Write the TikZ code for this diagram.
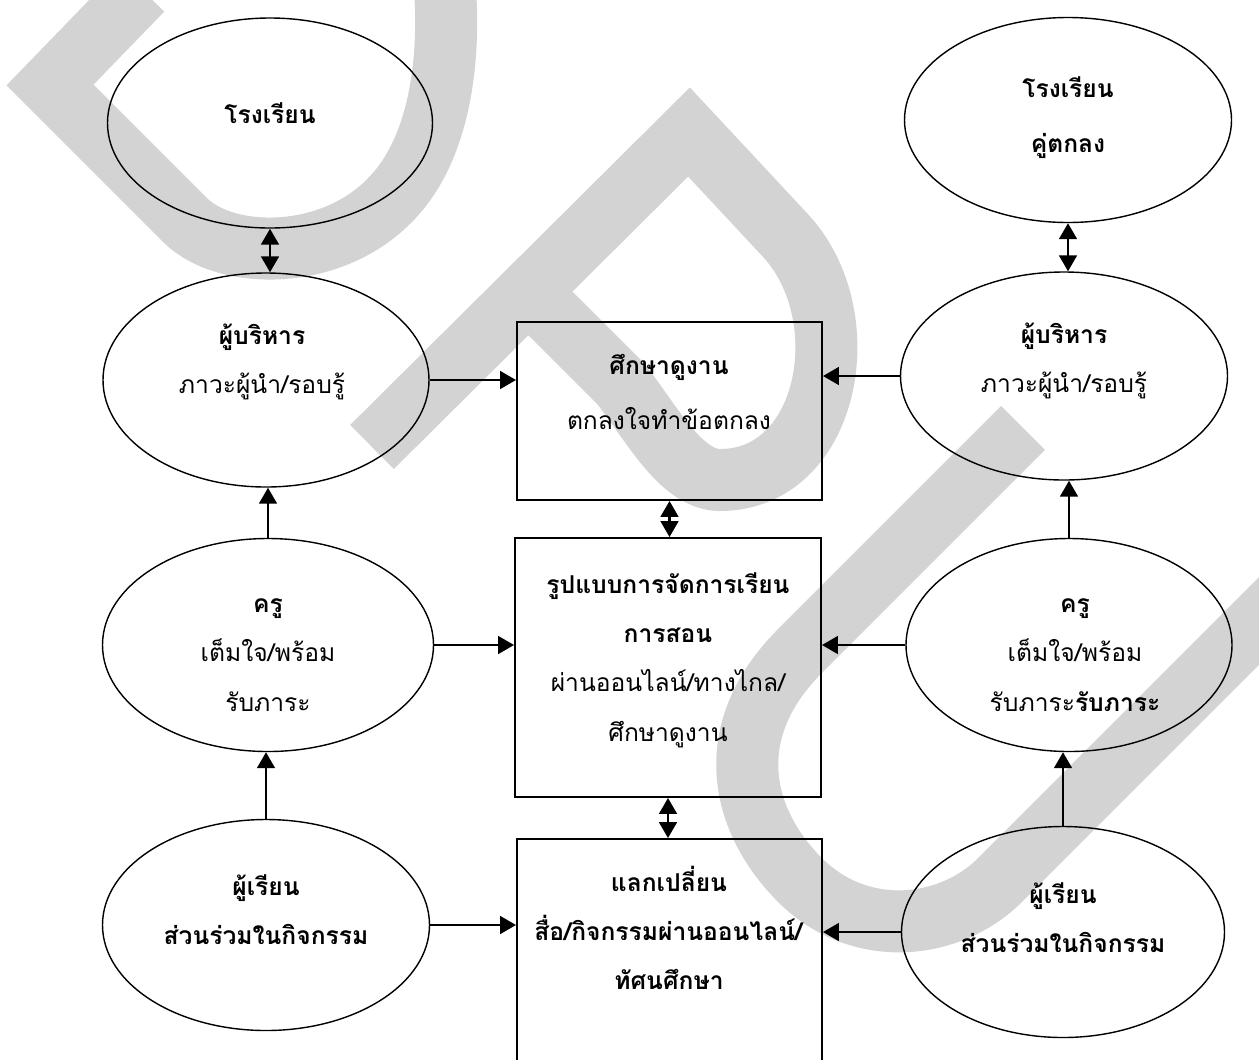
\documentclass[tikz,border=0pt]{standalone}
\usepackage{fontspec}
\setmainfont[Script=Thai]{Loma}
\usetikzlibrary{shapes.geometric, arrows.meta, positioning}
\definecolor{wmgray}{RGB}{211,211,211}
\tikzstyle{oval} = [
    ellipse,
    draw=black,
    line width=0.8pt,
    inner sep=0pt
]
\tikzstyle{block} = [
    rectangle,
    draw=black,
    line width=1.1pt,
    inner sep=0pt
]
\tikzstyle{txt} = [
    align=center,
    inner sep=0pt,
    font=\fontsize{14}{28}\selectfont
]
\tikzstyle{link} = [line width=1.4pt, -{Triangle[length=9pt,width=10pt]}]
\tikzstyle{twoway} = [line width=1.4pt, {Triangle[length=9pt,width=10pt]}-{Triangle[length=9pt,width=10pt]}]
\tikzstyle{wmband} = [draw=wmgray, line width=1.24cm, line join=miter]

\begin{document}
\begin{tikzpicture}
            \path[use as bounding box] (0,0) rectangle (25.18,-21.18);
            \clip (0,0) rectangle (25.18,-21.18);

            % watermark
            \draw[wmband] (2.84,0.2) -- (1.00,-1.70) -- (3.70,-4.40)
                .. controls (4.50,-5.20) and (6.60,-5.24) .. (7.80,-4.00)
                .. controls (8.80,-3.00) and (9.00,-1.20) .. (8.90,0.2);
            \draw[wmband] (7.44,-8.94) -- (13.78,-2.64) -- (15.70,-4.70)
                .. controls (17.20,-6.30) and (16.60,-9.60) .. (14.40,-9.60)
                .. controls (13.60,-9.60) and (13.00,-8.40) .. (12.40,-7.66) -- (10.58,-5.84);
            \draw[wmband] (20.46,-8.56) -- (16.00,-13.02)
                .. controls (14.40,-14.62) and (14.80,-16.40) .. (16.00,-17.60)
                .. controls (17.20,-18.80) and (19.00,-18.60) .. (20.00,-17.60) -- (25.80,-11.80);

            % left column
            \node[oval, minimum width=6.50cm, minimum height=4.20cm] (schoolL) at (5.40,-2.46) {};
            \node[oval, minimum width=6.52cm, minimum height=4.28cm] (adminL) at (5.32,-7.60) {};
            \node[oval, minimum width=6.62cm, minimum height=4.26cm] (teacherL) at (5.36,-12.90) {};
            \node[oval, minimum width=6.54cm, minimum height=4.22cm] (studentL) at (5.32,-18.50) {};

            % right column
            \node[oval, minimum width=6.54cm, minimum height=4.10cm] (schoolR) at (21.36,-2.40) {};
            \node[oval, minimum width=6.54cm, minimum height=4.16cm] (adminR) at (21.28,-7.52) {};
            \node[oval, minimum width=6.52cm, minimum height=4.26cm] (teacherR) at (21.38,-12.90) {};
            \node[oval, minimum width=6.46cm, minimum height=4.22cm] (studentR) at (21.26,-18.64) {};

            % middle
            \node[block, minimum width=6.10cm, minimum height=3.56cm] (visit) at (13.39,-8.22) {};
            \node[block, minimum width=6.12cm, minimum height=5.18cm] (model) at (13.36,-13.35) {};
            \node[block, minimum width=6.10cm, minimum height=4.72cm] (share) at (13.39,-19.14) {};

            % texts
            \node[txt] (schoolLtxt) at (5.40,-2.26) {\textbf{โรงเรียน}};
            \node[txt] (schoolRtxt) at (21.36,-2.35) {\textbf{โรงเรียน}\\[3pt] \textbf{คู่ตกลง}};
            \node[txt] (adminLtxt) at (5.24,-7.24) {\textbf{ผู้บริหาร}\\ ภาวะผู้นำ/รอบรู้};
            \node[txt] (adminRtxt) at (21.28,-7.22) {\textbf{ผู้บริหาร}\\ ภาวะผู้นำ/รอบรู้};
            \node[txt] (teacherLtxt) at (5.36,-13.10) {\textbf{ครู}\\ เต็มใจ/พร้อม\\ รับภาระ};
            \node[txt] (teacherRtxt) at (21.50,-13.10) {\textbf{ครู}\\ เต็มใจ/พร้อม\\ รับภาระ\textbf{รับภาระ}};
            \node[txt] (studentLtxt) at (5.32,-18.20) {\textbf{ผู้เรียน}\\ \textbf{ส่วนร่วมในกิจกรรม}};
            \node[txt] (studentRtxt) at (21.26,-18.36) {\textbf{ผู้เรียน}\\ \textbf{ส่วนร่วมในกิจกรรม}};
            \node[txt] (visittxt) at (13.38,-7.84) {\textbf{ศึกษาดูงาน}\\[3pt] ตกลงใจทำข้อตกลง};
            \node[txt] (modeltxt) at (13.36,-13.20) {\textbf{รูปแบบการจัดการเรียน}\\ \textbf{การสอน}\\ ผ่านออนไลน์/ทางไกล/\\ ศึกษาดูงาน};
            \node[txt] (sharetxt) at (13.38,-18.56) {\textbf{แลกเปลี่ยน}\\ \textbf{สื่อ/กิจกรรมผ่านออนไลน์/}\\ \textbf{ทัศนศึกษา}};

            % connectors
            \draw[twoway] (schoolL.south) -- (schoolL.south |- adminL.north);
            \draw[twoway] (schoolR.south) -- (schoolR.south |- adminR.north);
            \draw[link] (teacherL.north) -- (teacherL.north |- adminL.south);
            \draw[link] (studentL.north) -- (studentL.north |- teacherL.south);
            \draw[link] (teacherR.north) -- (teacherR.north |- adminR.south);
            \draw[link] (studentR.north) -- (studentR.north |- teacherR.south);
            \draw[link] (adminL.east) -- (adminL.east -| visit.west);
            \draw[link] (teacherL.east) -- (teacherL.east -| model.west);
            \draw[link] (studentL.east) -- (studentL.east -| share.west);
            \draw[link] (adminR.west) -- (adminR.west -| visit.east);
            \draw[link] (teacherR.west) -- (teacherR.west -| model.east);
            \draw[link] (studentR.west) -- (studentR.west -| share.east);
            \draw[twoway] (visit.south) -- (visit.south |- model.north);
            \draw[twoway] (model.south) -- (model.south |- share.north);
        \end{tikzpicture}
\end{document}
